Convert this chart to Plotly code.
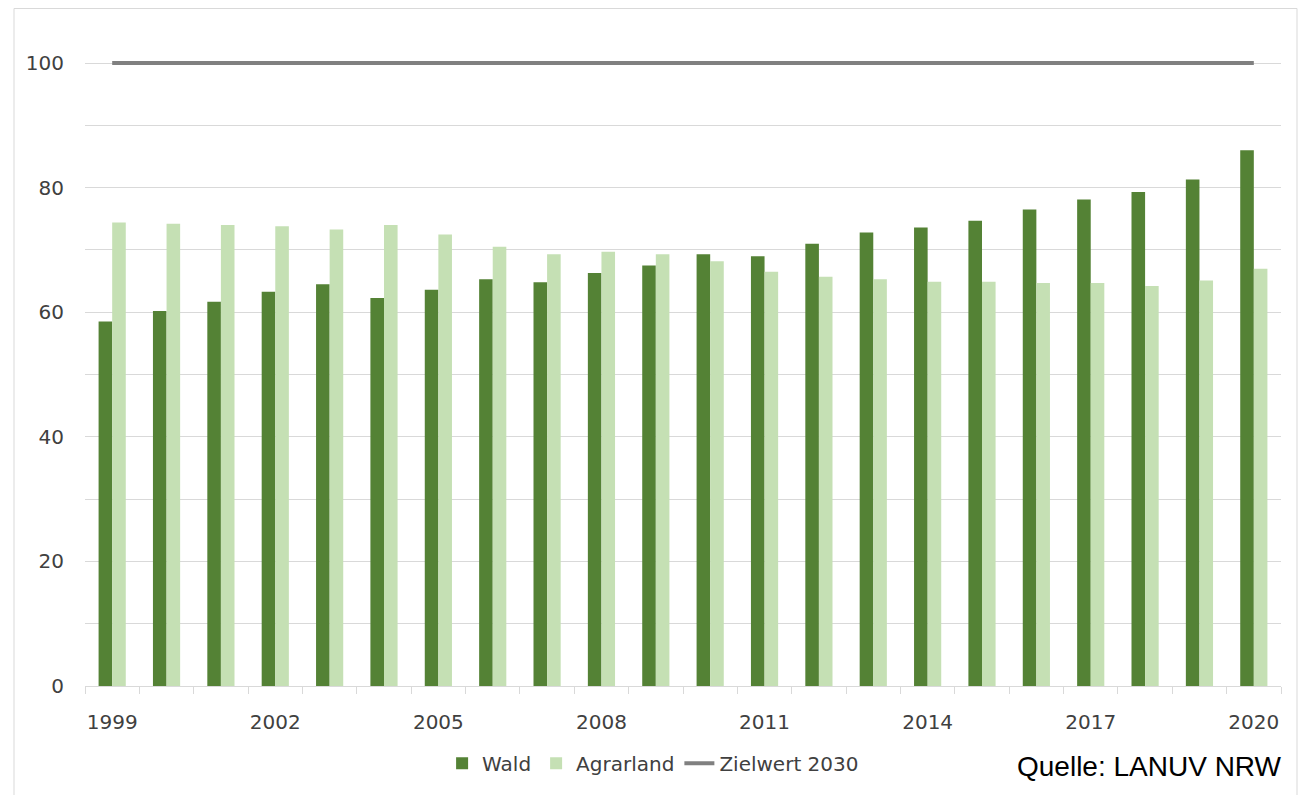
import plotly.graph_objects as go

years = list(range(1999, 2021))
wald = [58.5, 60.2, 61.7, 63.3, 64.5, 62.3, 63.6, 65.3, 64.8, 66.3, 67.5,
        69.3, 69.0, 71.0, 72.8, 73.6, 74.7, 76.5, 78.1, 79.3, 81.3, 86.0]
agrarland = [74.4, 74.2, 74.0, 73.8, 73.3, 74.0, 72.5, 70.5, 69.3, 69.7, 69.3,
             68.2, 66.5, 65.7, 65.3, 64.9, 64.9, 64.7, 64.7, 64.2, 65.1, 67.0]
zielwert = [100] * len(years)
x_labels = [1999, 2002, 2005, 2008, 2011, 2014, 2017, 2020]
y_labels = [0, 20, 40, 60, 80, 100]

FONT = "DejaVu Sans"
GRID = "#d9d9d9"
PH = 632  # plot height in px

fig = go.Figure()
fig.add_trace(go.Bar(x=years, y=wald, name="Wald", marker_color="#548235",
                     marker_line_width=0))
fig.add_trace(go.Bar(x=years, y=agrarland, name="Agrarland", marker_color="#c5e0b4",
                     marker_line_width=0))
fig.add_trace(go.Scatter(x=years, y=zielwert, name="Zielwert 2030", mode="lines",
                         cliponaxis=False,
                         line=dict(color="#808080", width=4)))

fig.update_layout(
    width=1303, height=795,
    margin=dict(l=85, r=22, t=60, b=103),
    paper_bgcolor="white", plot_bgcolor="white",
    barmode="group", bargap=0.5, bargroupgap=0,
    font=dict(family=FONT, size=20, color="#404040"),
    showlegend=True,
    legend=dict(orientation="h", x=0.475, xanchor="center", y=(692 - 770) / PH,
                yanchor="middle",
                font=dict(family=FONT, size=20, color="#404040"),
                itemwidth=30, tracegroupgap=0, bgcolor="rgba(0,0,0,0)"),
    xaxis=dict(
        range=[1998.5, 2020.5],
        tickmode="array", tickvals=x_labels, ticktext=[str(v) for v in x_labels],
        ticks="", showgrid=False, zeroline=False,
        showline=True, linecolor=GRID, linewidth=1,
        ticklabelstandoff=18,
        minor=dict(tickmode="linear", tick0=1998.5, dtick=1, ticks="outside",
                   ticklen=7, tickcolor=GRID, tickwidth=1, showgrid=False),
        tickfont=dict(family=FONT, size=20, color="#404040"),
    ),
    yaxis=dict(
        range=[0, 100.5],
        tickmode="array", tickvals=y_labels,
        ticks="", showgrid=True, gridcolor=GRID, gridwidth=1,
        zeroline=False, showline=False,
        ticklabelstandoff=20,
        minor=dict(tickmode="linear", tick0=0, dtick=10, showgrid=True,
                   gridcolor=GRID, gridwidth=1),
        tickfont=dict(family=FONT, size=20, color="#404040"),
    ),
    shapes=[dict(type="rect", xref="paper", yref="paper",
                 x0=(14 - 85) / 1196, x1=(1297 - 85) / 1196,
                 y0=(692 - 820) / PH, y1=(692 - 8) / PH,
                 line=dict(color=GRID, width=1), fillcolor="rgba(0,0,0,0)",
                 layer="below")],
    annotations=[dict(text="Quelle: LANUV NRW", xref="paper", yref="paper",
                      x=(1284 - 85) / 1196, y=(692 - 773) / PH,
                      xanchor="right", yanchor="middle", showarrow=False,
                      font=dict(family="Liberation Sans", size=28, color="black"))],
)

fig.write_html("out.html")
